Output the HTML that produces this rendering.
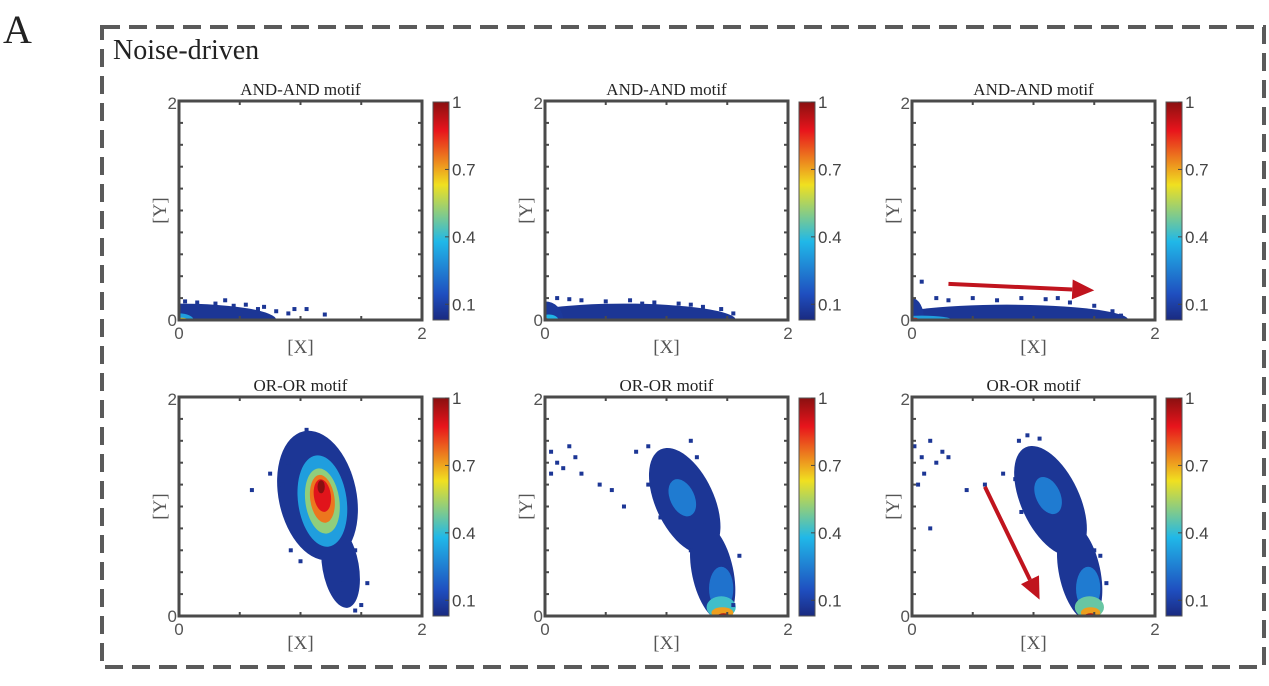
<!DOCTYPE html>
<html><head><meta charset="utf-8">
<style>
html,body{margin:0;padding:0;background:#fff;}
svg{display:block;}
.serif{font-family:"Liberation Serif",serif;}
.sans{font-family:"Liberation Sans",sans-serif;}
</style></head>
<body>
<svg id="fig" width="1269" height="686" viewBox="0 0 1269 686" xmlns="http://www.w3.org/2000/svg">
<text x="3" y="43" class="serif" font-size="40" fill="#222">A</text>
<rect x="102" y="27" width="1162" height="640" fill="none" stroke="#5a5a5a" stroke-width="4" stroke-dasharray="18 9"/>
<text x="113" y="59" class="serif" font-size="28" fill="#222">Noise-driven</text>
<defs>
<linearGradient id="jet" x1="0" y1="1" x2="0" y2="0">
<stop offset="0" stop-color="#1a2a80"/><stop offset="0.12" stop-color="#1f4fc0"/>
<stop offset="0.36" stop-color="#20b8e8"/><stop offset="0.62" stop-color="#f0e020"/>
<stop offset="0.87" stop-color="#e8141c"/><stop offset="1" stop-color="#8a1010"/>
</linearGradient>
</defs>
<g id="panels"></g>
</svg>
<script>
// ---- data (x, y in data units 0..2; density 0..1) ----
const panelTitles = ["AND-AND motif","AND-AND motif","AND-AND motif","OR-OR motif","OR-OR motif","OR-OR motif"];
const colorbarTicks = [1, 0.7, 0.4, 0.1];
const axisTicks = ["0","2"];
// density blobs per panel: [cx, cy, rx, ry, angleDeg, density]
const blobs1 = [[0.0,0.0,0.8,0.15,0,0.04],[0.0,0.0,0.12,0.06,0,0.3],[0.02,0.0,0.06,0.02,0,0.6]];
const blobs2 = [[0.65,0.0,0.92,0.15,0,0.04],[0.0,0.0,0.15,0.17,0,0.05],[0.03,0.0,0.08,0.05,0,0.35],[0.0,0.0,0.03,0.02,0,0.8]];
const blobs3 = [[0.78,0.0,1.0,0.14,0,0.04],[0.0,0.0,0.1,0.2,0,0.05],[0.08,0.0,0.25,0.04,0,0.3],[0.02,0.0,0.04,0.02,0,0.85]];
const blobs4 = [[1.14,1.1,0.32,0.6,-12,0.04],[1.33,0.45,0.15,0.38,-10,0.04],[1.18,1.05,0.2,0.42,-8,0.3],[1.18,1.05,0.14,0.3,-8,0.5],[1.18,1.07,0.1,0.22,-8,0.75],[1.18,1.1,0.07,0.15,-8,0.88],[1.17,1.18,0.03,0.06,0,1.0]];
const blobs5 = [[1.15,1.05,0.24,0.52,-25,0.04],[1.38,0.4,0.17,0.45,-12,0.04],[1.13,1.08,0.1,0.18,-25,0.22],[1.45,0.25,0.1,0.2,0,0.2],[1.45,0.08,0.12,0.1,0,0.4],[1.46,0.03,0.09,0.05,0,0.7],[1.47,0.0,0.05,0.025,0,0.95]];
const blobs6 = [[1.14,1.05,0.24,0.54,-25,0.04],[1.38,0.4,0.17,0.45,-12,0.04],[1.12,1.1,0.1,0.18,-25,0.22],[1.45,0.25,0.1,0.2,0,0.22],[1.46,0.08,0.12,0.1,0,0.45],[1.47,0.03,0.08,0.05,0,0.7],[1.47,0.0,0.05,0.025,0,0.95]];
// sparse outlier points per panel: [x, y]
const pts1 = [[0.05,0.17],[0.15,0.16],[0.3,0.15],[0.45,0.13],[0.55,0.14],[0.65,0.1],[0.8,0.08],[0.9,0.06],[0.95,0.1],[1.05,0.1],[1.2,0.05],[0.7,0.12],[0.38,0.18]];
const pts2 = [[0.1,0.2],[0.3,0.18],[0.5,0.17],[0.7,0.18],[0.9,0.16],[1.1,0.15],[1.3,0.12],[1.45,0.1],[1.55,0.06],[0.2,0.19],[0.8,0.15],[1.2,0.14]];
const pts3 = [[0.08,0.35],[0.3,0.18],[0.5,0.2],[0.7,0.18],[0.9,0.2],[1.1,0.19],[1.3,0.16],[1.5,0.13],[1.65,0.08],[1.72,0.04],[0.2,0.2],[1.2,0.2]];
const pts4 = [[0.6,1.15],[0.75,1.3],[0.85,1.2],[0.9,1.4],[1.05,1.7],[1.0,1.6],[1.4,1.3],[1.45,0.6],[1.55,0.3],[1.5,0.1],[1.45,0.05],[1.3,0.2],[1.35,0.3],[0.92,0.6],[1.0,0.5]];
const pts5 = [[0.05,1.5],[0.1,1.4],[0.2,1.55],[0.25,1.45],[0.05,1.3],[0.15,1.35],[0.3,1.3],[0.45,1.2],[0.55,1.15],[0.65,1.0],[0.75,1.5],[0.85,1.55],[0.9,1.4],[0.85,1.2],[1.2,1.6],[1.25,1.45],[0.95,0.9],[1.2,0.6],[1.6,0.55],[1.55,0.1]];
const pts6 = [[0.02,1.55],[0.08,1.45],[0.15,1.6],[0.2,1.4],[0.1,1.3],[0.05,1.2],[0.25,1.5],[0.3,1.45],[0.15,0.8],[0.45,1.15],[0.6,1.2],[0.75,1.3],[0.88,1.6],[0.95,1.65],[1.05,1.62],[0.85,1.25],[1.6,0.3],[1.55,0.55],[1.5,0.6],[0.9,0.95]];
const panelBlobs = [blobs1,blobs2,blobs3,blobs4,blobs5,blobs6];
const panelPts = [pts1,pts2,pts3,pts4,pts5,pts6];
// arrows: [panelIndex, x1, y1, x2, y2]
const arrows = [[2,0.3,0.33,1.5,0.27],[5,0.6,1.18,1.05,0.15]];

// ---- layout ----
const colX = [179,545,912], rowY = [101,397], W = 243, H = 219;
const NS = "http://www.w3.org/2000/svg";
const root = document.getElementById("panels");
function mk(tag, attrs, parent){const e=document.createElementNS(NS,tag);for(const k in attrs)e.setAttribute(k,attrs[k]);(parent||root).appendChild(e);return e;}
const cmapStops=[[0,[26,42,128]],[0.12,[31,79,192]],[0.36,[32,184,232]],[0.62,[240,224,32]],[0.87,[232,20,28]],[1,[138,16,16]]];
function jet(v){
  for(let i=1;i<cmapStops.length;i++){
    if(v<=cmapStops[i][0]){const a=cmapStops[i-1],b=cmapStops[i];const t=(v-a[0])/(b[0]-a[0]);
      return `rgb(${a[1].map((c,k)=>Math.round(c+(b[1][k]-c)*t)).join(",")})`;}
  }
  return "rgb(138,16,16)";
}
for(let p=0;p<6;p++){
  const x0=colX[p%3], y0=rowY[Math.floor(p/3)];
  const sx=v=>x0+v/2*W, sy=v=>y0+H-v/2*H;
  const g=mk("g",{});
  
  
  const cp=mk("clipPath",{id:"clip"+p},g); mk("rect",{x:x0,y:y0,width:W,height:H},cp);
  const plot=mk("g",{"clip-path":`url(#clip${p})`},g);
  panelBlobs[p].forEach(b=>{
    const e=mk("ellipse",{cx:sx(b[0]),cy:sy(b[1]),rx:b[2]/2*W,ry:b[3]/2*H,fill:jet(b[5]),transform:`rotate(${b[4]} ${sx(b[0])} ${sy(b[1])})`},plot);
    
    
  });
  panelPts[p].forEach(q=>{
    const r=mk("rect",{x:sx(q[0])-2,y:sy(q[1])-2,width:4,height:4,fill:jet(0.04)},plot);
    
    
  });
  const fr=mk("rect",{x:x0,y:y0,width:W,height:H,fill:"none",stroke:"#4a4a4a","stroke-width":3},g);
  
  
  for(let i=1;i<4;i++){const tx=sx(i*0.5);mk("line",{x1:tx,y1:y0,x2:tx,y2:y0+4,stroke:"#4a4a4a","stroke-width":2},g);mk("line",{x1:tx,y1:y0+H,x2:tx,y2:y0+H-4,stroke:"#4a4a4a","stroke-width":2},g);}
  for(let i=1;i<10;i++){const ty=sy(i*0.2);mk("line",{x1:x0,y1:ty,x2:x0+4,y2:ty,stroke:"#4a4a4a","stroke-width":2},g);mk("line",{x1:x0+W,y1:ty,x2:x0+W-4,y2:ty,stroke:"#4a4a4a","stroke-width":2},g);}
  const tickLab=(txt,x,y,anchor,name)=>{const t=mk("text",{x,y,"text-anchor":anchor,class:"sans","font-size":17,fill:"#555"},g);t.textContent=txt;};
  tickLab(axisTicks[0],x0-2,y0+H+6,"end","y-tick-0");
  tickLab(axisTicks[1],x0-2,y0+8,"end","y-tick-2");
  tickLab(axisTicks[0],x0,y0+H+19,"middle","x-tick-0");
  tickLab(axisTicks[1],x0+W,y0+H+19,"middle","x-tick-2");
  const ti=mk("text",{x:x0+W/2,y:y0-6,"text-anchor":"middle",class:"serif","font-size":17,fill:"#222"},g);
  ti.textContent=panelTitles[p];
  
  
  const xl=mk("text",{x:x0+W/2,y:y0+H+33,"text-anchor":"middle",class:"serif","font-size":19,fill:"#555"},g);
  xl.textContent="[X]";
  
  
  const yl=mk("text",{x:0,y:0,"text-anchor":"middle",class:"serif","font-size":19,fill:"#555",transform:`translate(${x0-13},${y0+H/2}) rotate(-90)`},g);
  yl.textContent="[Y]";
  
  
  const cbx=x0+W+11, cbTop=y0+1, cbH=H-1;
  const cb=mk("rect",{x:cbx,y:cbTop,width:16,height:cbH,fill:"url(#jet)",stroke:"#555","stroke-width":1},g);
  
  
  colorbarTicks.forEach(v=>{
    const ty=cbTop+cbH-(v-0.03)/0.97*cbH;
    mk("line",{x1:cbx+12,y1:ty,x2:cbx+16,y2:ty,stroke:"#444","stroke-width":1},g);
    const t=mk("text",{x:cbx+19,y:ty+6,class:"sans","font-size":17,fill:"#444"},g);
    t.textContent=String(v);
    
    
  });
}
arrows.forEach(a=>{
  const p=a[0], x0=colX[p%3], y0=rowY[Math.floor(p/3)];
  const sx=v=>x0+v/2*W, sy=v=>y0+H-v/2*H;
  const X1=sx(a[1]),Y1=sy(a[2]),X2=sx(a[3]),Y2=sy(a[4]);
  const ang=Math.atan2(Y2-Y1,X2-X1), L=22, wd=10;
  const bx=X2-L*Math.cos(ang), by=Y2-L*Math.sin(ang);
  const ln=mk("line",{x1:X1,y1:Y1,x2:bx,y2:by,stroke:"#c0141e","stroke-width":4});
  
  
  const px=-Math.sin(ang)*wd, py=Math.cos(ang)*wd;
  const hd=mk("polygon",{points:`${X2},${Y2} ${bx+px},${by+py} ${bx-px},${by-py}`,fill:"#c0141e"});
  
  
});
</script>
</body></html>
